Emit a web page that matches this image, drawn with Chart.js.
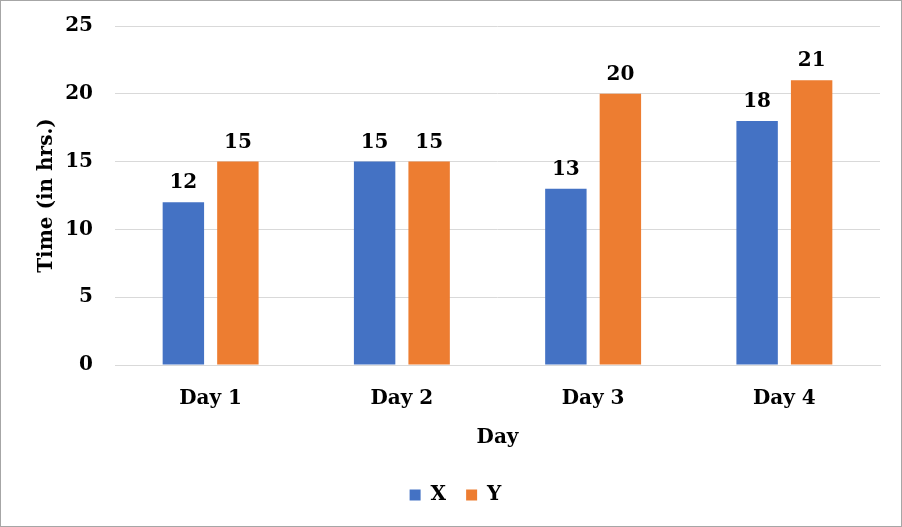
<!DOCTYPE html>
<html>
<head>
<meta charset="utf-8">
<script src="https://cdn.jsdelivr.net/npm/chart.js@4"></script>
<style>
  html, body { margin: 0; padding: 0; background: #fff; }
  #wrap { position: relative; width: 900px; height: 525px; border: 1px solid #a6a6a6; }
</style>
</head>
<body>
<div id="wrap"><canvas id="timeChart"></canvas></div>
<script>
const days = ['Day 1', 'Day 2', 'Day 3', 'Day 4'];
const xHours = [12, 15, 13, 18];
const yHours = [15, 15, 20, 21];
const yTicks = [0, 5, 10, 15, 20, 25];

const serif = "'DejaVu Serif', 'Liberation Serif', serif";

// draws the value over each bar
const barValues = {
  id: 'barValues',
  afterDatasetsDraw(chart) {
    const ctx = chart.ctx;
    ctx.save();
    ctx.font = "bold 20px " + serif;
    ctx.fillStyle = '#000';
    ctx.textAlign = 'center';
    ctx.textBaseline = 'bottom';
    chart.data.datasets.forEach((ds, i) => {
      chart.getDatasetMeta(i).data.forEach((bar, j) => {
        ctx.fillText(ds.data[j], bar.x, bar.y - 9);
      });
    });
    ctx.restore();
  }
};

const data = {
  labels: days,
  datasets: [{
    label: 'X',
    data: xHours,
    backgroundColor: '#4472C4',
    categoryPercentage: 0.57,
    barPercentage: 0.76
  }, {
    label: 'Y',
    data: yHours,
    backgroundColor: '#ED7D31',
    categoryPercentage: 0.57,
    barPercentage: 0.76
  }]
};

const config = {
  type: 'bar',
  data: data,
  plugins: [barValues],
  options: {
    responsive: true,
    maintainAspectRatio: false,
    animation: false,
    layout: { padding: { left: 30, right: 21, top: 25, bottom: 11 } },
    plugins: {
      tooltip: { enabled: false },
      legend: {
        position: 'bottom',
        labels: {
          boxWidth: 11,
          boxHeight: 11,
          padding: 20,
          color: '#000',
          font: { family: serif, size: 20, weight: 'bold' }
        }
      }
    },
    scales: {
      x: {
        grid: { display: false },
        border: { color: '#d9d9d9' },
        ticks: { color: '#000', padding: 14, font: { family: serif, size: 20, weight: 'bold' } },
        title: { display: true, text: 'Day', color: '#000', padding: { top: 1, bottom: 15 }, font: { family: serif, size: 20, weight: 'bold' } }
      },
      y: {
        min: 0,
        max: 25,
        afterBuildTicks: axis => { axis.ticks = yTicks.map(v => ({ value: v })); },
        afterFit: axis => {
          axis.width = 84;
          axis.paddingTop = 0;
          axis.paddingBottom = 0;
        },
        grid: { color: '#d9d9d9', drawTicks: false },
        border: { display: false },
        ticks: { color: '#000', padding: 22, font: { family: serif, size: 20, weight: 'bold' } },
        title: { display: true, text: 'Time (in hrs.)', color: '#000', font: { family: serif, size: 20, weight: 'bold' } }
      }
    }
  }
};

const timeChart = new Chart(document.getElementById('timeChart'), config);
</script>
</body>
</html>
